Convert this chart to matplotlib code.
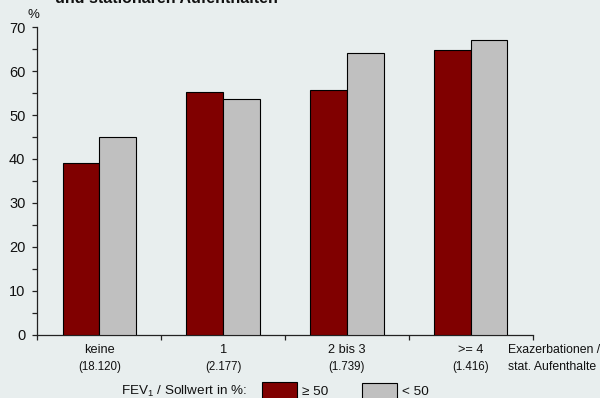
import matplotlib
matplotlib.use("Agg")
import matplotlib.pyplot as plt
from matplotlib.patches import Rectangle
from matplotlib.ticker import MultipleLocator

plt.rcParams['font.family'] = ['Liberation Sans', 'DejaVu Sans']
plt.rcParams['mathtext.fontset'] = 'custom'
plt.rcParams['mathtext.rm'] = 'Liberation Sans'

# Data
categories = ["keine", "1", "2 bis 3", ">= 4"]
counts = ["(18.120)", "(2.177)", "(1.739)", "(1.416)"]
fev_ge50 = [39.0, 55.3, 55.7, 64.7]
fev_lt50 = [45.1, 53.7, 64.2, 67.0]
series_labels = ["\u2265 50", "< 50"]
yticks = [0, 10, 20, 30, 40, 50, 60, 70]

BG = '#e8eeee'
RED = '#800000'
GRAY = '#c0c0c0'
TXT = '#111111'
W, H = 600, 398

fig = plt.figure(figsize=(6, 3.98), dpi=100, facecolor=BG)
ax = fig.add_axes([37.3 / W, 63.3 / H, (532.7 - 37.3) / W, (334.7 - 27.2) / H])
ax.set_facecolor(BG)

centers = [i + 0.5 for i in range(len(categories))]
bw = 0.296
ax.bar([c - bw / 2 for c in centers], fev_ge50, width=bw, color=RED,
       edgecolor='black', linewidth=0.8, zorder=3)
ax.bar([c + bw / 2 for c in centers], fev_lt50, width=bw, color=GRAY,
       edgecolor='black', linewidth=0.8, zorder=3)

ax.set_xlim(0, len(categories))
ax.set_ylim(0, 70)
ax.set_yticks(yticks)
ax.yaxis.set_minor_locator(MultipleLocator(5))
ax.set_xticks(range(len(categories) + 1))
ax.set_xticklabels([])

for s in ['top', 'right']:
    ax.spines[s].set_visible(False)
for s in ['left', 'bottom']:
    ax.spines[s].set_linewidth(0.9)
    ax.spines[s].set_color('#222222')

ax.tick_params(axis='y', which='both', direction='out', length=3.5,
               width=0.9, color='#222222', labelsize=10.5, pad=5, labelcolor=TXT)
ax.tick_params(axis='x', which='both', direction='out', length=3.5,
               width=0.9, color='#222222')

# Category labels with sample sizes
for c, name, n in zip(centers, categories, counts):
    ax.annotate(name, xy=(c, 0), xycoords=('data', 'axes fraction'),
                xytext=(0, -11), textcoords='offset points',
                ha='center', va='center', fontsize=9.2, color=TXT)
    ax.annotate(n, xy=(c, 0), xycoords=('data', 'axes fraction'),
                xytext=(0, -23.5), textcoords='offset points',
                ha='center', va='center', fontsize=8.3, color=TXT)

fig.text(507.5 / W, 1 - 350 / H, "Exazerbationen /", ha='left', va='center',
         fontsize=8.8, color=TXT)
fig.text(508.5 / W, 1 - 367 / H, "stat. Aufenthalte", ha='left', va='center',
         fontsize=8.8, color=TXT)

fig.text(33 / W, 1 - 15 / H, "%", ha='center', va='center', fontsize=9.5,
         color=TXT)

# Title (upper line runs off the top edge)
fig.text(55 / W, 1 - 3 / H, "und stationären Aufenthalten", ha='left',
         va='baseline', fontsize=11.5, fontweight='bold', color=TXT)

# Legend
fig.text(120.7 / W, 1 - 391.7 / H, r"FEV$_\mathrm{1}$ / Sollwert in %:",
         ha='left', va='center', fontsize=9.7, color=TXT)
fig.patches.append(Rectangle((262 / W, 1 - 404 / H), 35 / W, 21.7 / H,
                             transform=fig.transFigure, facecolor=RED,
                             edgecolor='black', linewidth=0.8))
fig.text(302.5 / W, 1 - 391.7 / H, series_labels[0], ha='left', va='center',
         fontsize=9.7, color=TXT)
fig.patches.append(Rectangle((362 / W, 1 - 404 / H), 35 / W, 21 / H,
                             transform=fig.transFigure, facecolor=GRAY,
                             edgecolor='black', linewidth=0.8))
fig.text(401.7 / W, 1 - 391.7 / H, series_labels[1], ha='left', va='center',
         fontsize=9.7, color=TXT)

fig.savefig("out.png", dpi=100, facecolor=BG)
